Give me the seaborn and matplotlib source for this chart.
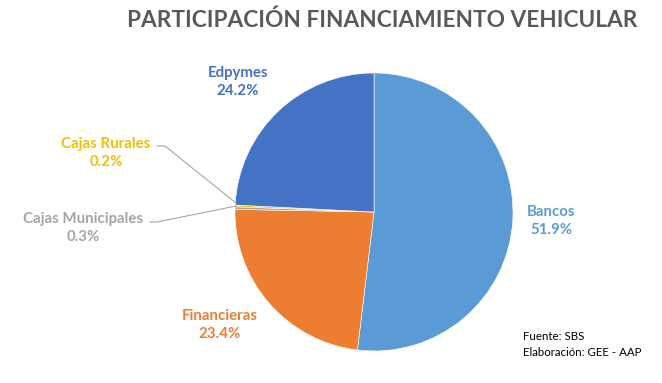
import matplotlib
matplotlib.use("Agg")
import matplotlib.pyplot as plt
import seaborn as sns
import numpy as np

categorias = ["Bancos", "Financieras", "Cajas Municipales", "Cajas Rurales", "Edpymes"]
participacion = [51.9, 23.4, 0.3, 0.2, 24.2]
colores = ["#5B9BD5", "#ED7D31", "#A5A5A5", "#FFC000", "#4472C4"]
colores_texto = ["#5B9BD5", "#ED7D31", "#A5A5A5", "#F2BE00", "#4472C4"]

sns.set_theme(style="white")
plt.rcParams["font.family"] = ["Lato", "DejaVu Sans"]

W, H = 662, 383
fig = plt.figure(figsize=(W / 100, H / 100), dpi=100)
cx, cy, r = 374, 212, 139
ax = fig.add_axes([(cx - r) / W, (H - cy - r) / H, 2 * r / W, 2 * r / H])

wedges, _ = ax.pie(participacion, colors=colores, startangle=90, counterclock=False,
                   radius=1, wedgeprops=dict(edgecolor="white", linewidth=0.4))
ax.set_xlim(-1, 1)
ax.set_ylim(-1, 1)
ax.set_aspect("equal")
ax.axis("off")


def px(x, y):
    return (x - cx) / r, (cy - y) / r


# posiciones de las etiquetas (pixeles en la imagen de referencia)
pos_etiquetas = {
    "Bancos": (551, 221),
    "Financieras": (220, 325),
    "Cajas Municipales": (83, 228),
    "Cajas Rurales": (106, 153),
    "Edpymes": (238, 82),
}

for cat, val, col in zip(categorias, participacion, colores_texto):
    x, y = pos_etiquetas[cat]
    dx, dy = px(x, y)
    ax.text(dx, dy, f"{cat}\n{val:.1f}%", ha="center", va="center", color=col,
            fontsize=10.8, fontweight="bold", linespacing=1.3, clip_on=False)

# lineas guia para las porciones pequenas
for pts in ([(157, 146), (165, 146), (236, 203)], [(150, 222), (157, 222), (236, 206)]):
    xs, ys = zip(*[px(a, b) for a, b in pts])
    ax.plot(xs, ys, color="#A6A6A6", lw=0.8, clip_on=False)

fig.text(382 / W, 1 - 20 / H, "PARTICIPACIÓN FINANCIAMIENTO VEHICULAR", ha="center", va="center",
         fontsize=16.3, fontweight="bold", color="#595959")

fig.text(523 / W, 1 - 336 / H, "Fuente: SBS", ha="left", va="center", fontsize=8.3, color="black")
fig.text(523 / W, 1 - 353 / H, "Elaboración: GEE - AAP", ha="left", va="center", fontsize=8.3, color="black")

fig.savefig("out.png", dpi=100, facecolor="white")
